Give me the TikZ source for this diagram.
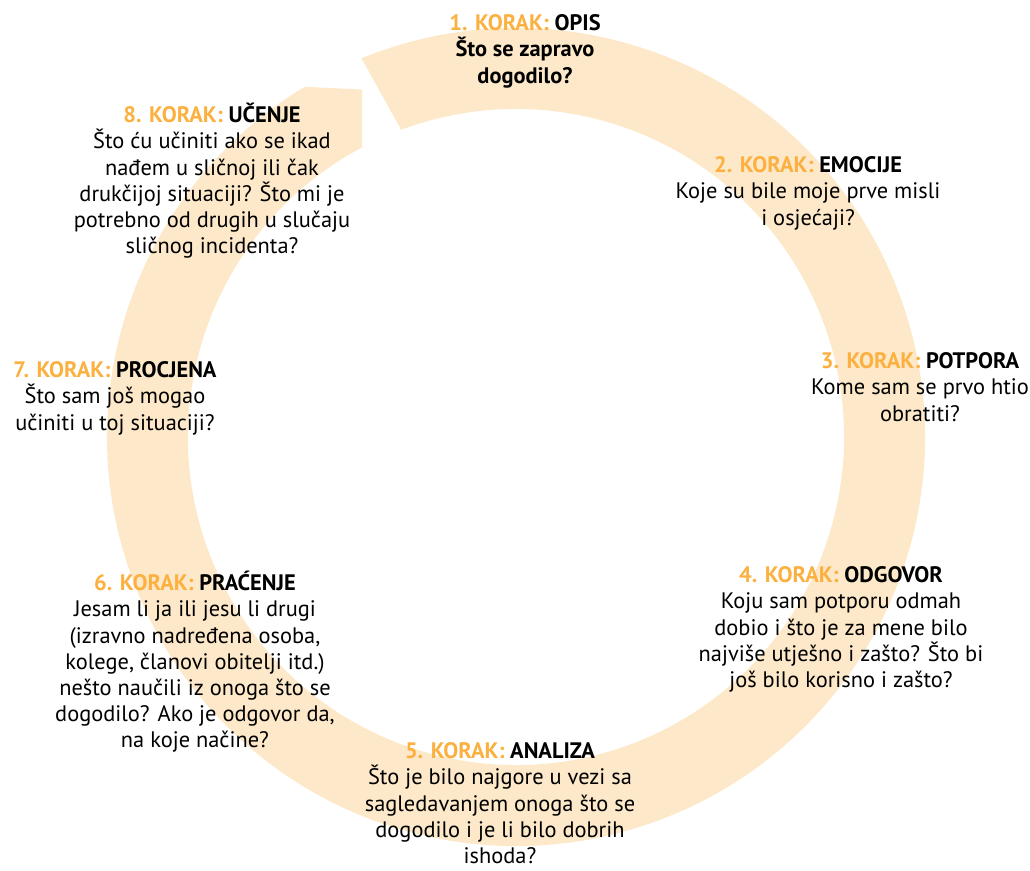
\documentclass[tikz,border=0pt]{standalone}
\usepackage{fontspec}
\setmainfont{PT Sans}
\usepackage{tikz}
\definecolor{korakorange}{HTML}{FBB040}
\definecolor{ringfill}{HTML}{FDE9C9}
\newcommand{\korak}[2]{\vphantom{Č}{\bfseries\textcolor{korakorange}{#1. KORAK:} #2}}

\begin{document}
\begin{tikzpicture}[x=0.75pt, y=0.75pt,
  steptext/.style={font=\fontsize{16.8}{19.6}\selectfont, align=center,
                   inner sep=0pt, anchor=north},
]
\useasboundingbox (0,0) rectangle (1030,870);

% ---------------- ring arrow ---------------------------------------
\coordinate (c) at (516,433);
\fill[ringfill] ([shift={(112.2:409)}]c)
  arc[start angle=112.2, end angle=-238.9, radius=409]
  -- ([shift={(-246.1:380)}]c) -- ([shift={(-242:328)}]c)
  arc[start angle=-242, end angle=110.5, radius=328] -- cycle;

% ---------------- steps --------------------------------------------
\node[steptext] (s1) at (525,859) {\korak{1}{OPIS}\\ \bfseries Što se zapravo\\ \bfseries dogodilo?};
\node[steptext] (s2) at (808,717) {\korak{2}{EMOCIJE}\\ Koje su bile moje prve misli\\ i osjećaji?};
\node[steptext] (s3) at (920,521) {\korak{3}{POTPORA}\\ Kome sam se prvo htio\\ obratiti?};
\node[steptext] (s4) at (841,307) {\korak{4}{ODGOVOR}\\ Koju sam potporu odmah\\ dobio i što je za mene bilo\\
  najviše utješno i zašto? Što bi\\ još bilo korisno i zašto?};
\node[steptext] (s5) at (500,131) {\korak{5}{ANALIZA}\\ Što je bilo najgore u vezi sa\\ sagledavanjem onoga što se\\
  dogodilo i je li bilo dobrih\\ ishoda?};
\node[steptext] (s6) at (195,299) {\korak{6}{PRAĆENJE}\\ Jesam li ja ili jesu li drugi\\ (izravno nadređena osoba,\\
  kolege, članovi obitelji itd.)\\ nešto naučili iz onoga što se\\ dogodilo? Ako je odgovor da,\\ na koje načine?};
\node[steptext] (s7) at (115,512) {\korak{7}{PROCJENA}\\ Što sam još mogao\\ učiniti u toj situaciji?};
\node[steptext] (s8) at (212,767) {\korak{8}{UČENJE}\\ Što ću učiniti ako se ikad\\ nađem u sličnoj ili čak\\
  drukčijoj situaciji? Što mi je\\ potrebno od drugih u slučaju\\ sličnog incidenta?};

\end{tikzpicture}
\end{document}
